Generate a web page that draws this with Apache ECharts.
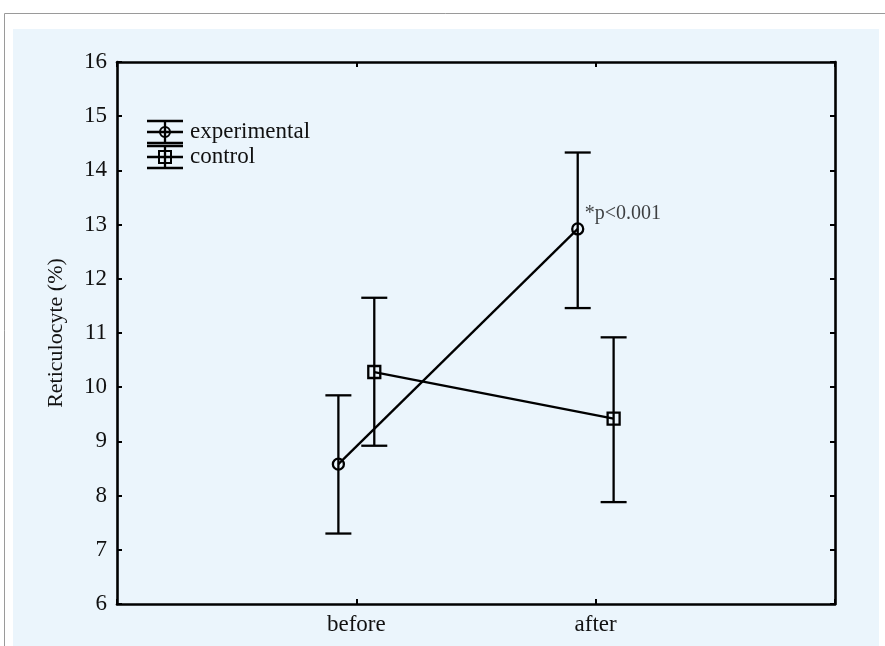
<!DOCTYPE html>
<html><head><meta charset="utf-8">
<script src="https://cdn.jsdelivr.net/npm/echarts@6/dist/echarts.min.js"></script>
<style>html,body{margin:0;padding:0;background:#fff}#c{width:885px;height:646px}</style>
</head><body><div id="c"></div><script>
// ---- data ----
const categories = ['before', 'after'];
const seriesNames = ['experimental', 'control'];
const expMean = [8.58, 12.92];
const expLow = [7.30, 11.46];
const expHigh = [9.85, 14.33];
const ctrlMean = [10.28, 9.42];
const ctrlLow = [8.92, 7.88];
const ctrlHigh = [11.65, 10.92];
const groupOffset = [-0.075, 0.075];
const yMin = 6, yMax = 16, yStep = 1;
const annotation = '*p<0.001';

const FONT = 'Liberation Serif';
const pos = (i, g) => i + 1 + groupOffset[g];
const expPts = expMean.map((v, i) => [pos(i, 0), v]);
const ctrlPts = ctrlMean.map((v, i) => [pos(i, 1), v]);
const expErr = expMean.map((v, i) => [pos(i, 0), expLow[i], expHigh[i]]);
const ctrlErr = ctrlMean.map((v, i) => [pos(i, 1), ctrlLow[i], ctrlHigh[i]]);

function errRender(params, api) {
  const x = api.value(0), lo = api.value(1), hi = api.value(2);
  const a = api.coord([x, lo]), b = api.coord([x, hi]);
  const hw = 13;
  const style = { stroke: '#000', lineWidth: 2.3 };
  return { type: 'group', children: [
    { type: 'line', shape: { x1: a[0], y1: a[1], x2: b[0], y2: b[1] }, style },
    { type: 'line', shape: { x1: a[0] - hw, y1: a[1], x2: a[0] + hw, y2: a[1] }, style },
    { type: 'line', shape: { x1: b[0] - hw, y1: b[1], x2: b[0] + hw, y2: b[1] }, style }
  ]};
}

const axisLine = { show: true, onZero: false, lineStyle: { color: '#000', width: 2.6 } };
const tick = { show: true, inside: true, length: 5, lineStyle: { color: '#000', width: 2 } };

function legendItem(cy, text, symbolType) {
  const x1 = 147, x2 = 183, cx = 165, h = 11;
  const st = { stroke: '#000', lineWidth: 2.3 };
  const sym = symbolType === 'circle'
    ? { type: 'circle', shape: { cx: cx, cy: cy, r: 5 }, style: { fill: 'transparent', stroke: '#000', lineWidth: 2 } }
    : { type: 'rect', shape: { x: cx - 6, y: cy - 6, width: 12, height: 12 }, style: { fill: 'transparent', stroke: '#000', lineWidth: 2 } };
  return [
    { type: 'line', shape: { x1: x1, y1: cy - h, x2: x2, y2: cy - h }, style: st },
    { type: 'line', shape: { x1: x1, y1: cy, x2: x2, y2: cy }, style: st },
    { type: 'line', shape: { x1: x1, y1: cy + h, x2: x2, y2: cy + h }, style: st },
    { type: 'line', shape: { x1: cx, y1: cy - h, x2: cx, y2: cy + h }, style: st },
    sym,
    { type: 'text', style: { x: 190, y: cy, text: text, fill: '#111', font: '23px ' + FONT, textVerticalAlign: 'middle' } }
  ];
}

const chart = echarts.init(document.getElementById('c'), null, { renderer: 'canvas' });
chart.setOption({
  animation: false,
  backgroundColor: '#fff',
  graphic: [
    { type: 'rect', z: -10, silent: true, shape: { x: 4.5, y: 13.5, width: 1000, height: 1000 }, style: { fill: '#fff', stroke: '#9a9a9a', lineWidth: 1 } },
    { type: 'rect', z: -9, silent: true, shape: { x: 13, y: 29, width: 866, height: 700 }, style: { fill: '#ebf5fc' } },
    { type: 'group', z: 100, children: legendItem(132, seriesNames[0], 'circle').concat(legendItem(157, seriesNames[1], 'rect')) }
  ],
  grid: { left: 117, top: 62, width: 718, height: 542, show: false },
  xAxis: [
    { type: 'value', position: 'bottom', min: 0, max: categories.length + 1, interval: 1,
      axisLine, axisTick: tick, splitLine: { show: false },
      axisLabel: { margin: 9, color: '#111', fontFamily: FONT, fontSize: 23,
        formatter: v => categories[v - 1] || '' } },
    { type: 'value', position: 'top', min: 0, max: categories.length + 1, interval: 1,
      axisLine, axisTick: tick, splitLine: { show: false }, axisLabel: { show: false } }
  ],
  yAxis: [
    { type: 'value', position: 'left', min: yMin, max: yMax, interval: yStep,
      name: 'Reticulocyte (%)', nameLocation: 'middle', nameGap: 50, nameRotate: 90,
      nameTextStyle: { fontFamily: FONT, fontSize: 22, color: '#111' },
      axisLine, axisTick: tick, splitLine: { show: false },
      axisLabel: { margin: 10, color: '#111', fontFamily: FONT, fontSize: 23 } },
    { type: 'value', position: 'right', min: yMin, max: yMax, interval: yStep,
      axisLine, axisTick: tick, splitLine: { show: false }, axisLabel: { show: false } }
  ],
  series: [
    { name: seriesNames[0], type: 'line', data: expPts, z: 2,
      symbol: 'circle', symbolSize: 11,
      lineStyle: { color: '#000', width: 2.3 },
      itemStyle: { color: 'rgba(0,0,0,0)', borderColor: '#000', borderWidth: 2.3 } },
    { name: seriesNames[1], type: 'line', data: ctrlPts, z: 2,
      symbol: 'rect', symbolSize: 12,
      lineStyle: { color: '#000', width: 2.3 },
      itemStyle: { color: 'rgba(0,0,0,0)', borderColor: '#000', borderWidth: 2.3 } },
    { type: 'custom', data: expErr, renderItem: errRender, z: 3, encode: { x: 0, y: [1, 2] } },
    { type: 'custom', data: ctrlErr, renderItem: errRender, z: 3, encode: { x: 0, y: [1, 2] } },
    { type: 'scatter', data: [expPts[1]], symbolSize: 0, z: 4,
      label: { show: true, position: 'right', offset: [2, -15], formatter: annotation,
        fontFamily: FONT, fontSize: 20, color: '#111' } }
  ]
});
</script></body></html>
